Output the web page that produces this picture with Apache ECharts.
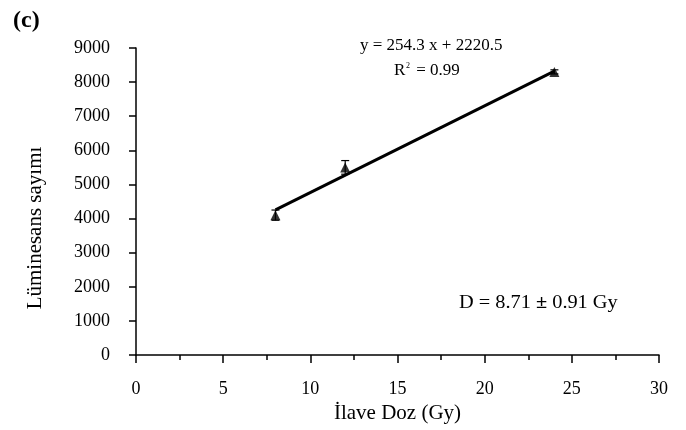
<!DOCTYPE html>
<html>
<head>
<meta charset="utf-8">
<script src="https://cdn.jsdelivr.net/npm/echarts@6/dist/echarts.min.js"></script>
<style>
html, body { margin: 0; padding: 0; background: #fff; }
#main { width: 686px; height: 430px; }
</style>
</head>
<body>
<div id="main"></div>
<script>
// measured doses and luminescence counts
var doses = [8, 12, 24];
var counts = [4100, 5500, 8300];
var errs = [150, 200, 60];

// linear fit
var slope = 254.3;
var intercept = 2220.5;
var fitX = [8, 24];

var FONT = '"Liberation Serif", "Times New Roman", serif';

var myChart = echarts.init(document.getElementById('main'));

var points = doses.map(function (d, i) { return [d, counts[i]]; });
var bars = doses.map(function (d, i) { return [d, counts[i] - errs[i], counts[i] + errs[i]]; });
var fitLine = fitX.map(function (x) { return [x, slope * x + intercept]; });

option = {
    animation: false,
    grid: { left: 136, right: 27, top: 48, bottom: 75 },
    xAxis: {
        type: 'value',
        min: 0, max: 30, interval: 5,
        name: 'İlave Doz (Gy)',
        nameLocation: 'middle',
        nameGap: 46,
        nameTextStyle: { fontFamily: FONT, fontSize: 21, color: '#000' },
        axisLine: { show: true, lineStyle: { color: '#000', width: 1.5 } },
        axisTick: { show: true, length: 8, lineStyle: { color: '#000', width: 1.5 } },
        minorTick: { show: true, splitNumber: 2, length: 5, lineStyle: { color: '#000', width: 1.5 } },
        axisLabel: { margin: 25, fontFamily: FONT, fontSize: 18, color: '#000' },
        splitLine: { show: false }
    },
    yAxis: {
        type: 'value',
        min: 0, max: 9000, interval: 1000,
        axisLine: { show: true, lineStyle: { color: '#000', width: 1.5 } },
        axisTick: { show: true, length: 7, lineStyle: { color: '#000', width: 1.5 } },
        axisLabel: {
            margin: 26, fontFamily: FONT, fontSize: 18, color: '#000',
            formatter: function (v) { return String(v); }
        },
        splitLine: { show: false }
    },
    graphic: [
        {
            type: 'text', left: 13, top: 9,
            style: { text: '(c)', font: 'bold 24px ' + FONT, fill: '#000' }
        },
        {
            type: 'text', x: 35, y: 228, rotation: Math.PI / 2,
            style: { text: 'Lüminesans sayımı', font: '21px ' + FONT, fill: '#000',
                     align: 'center', verticalAlign: 'middle' }
        },
        {
            type: 'text', x: 360, y: 37,
            style: { text: 'y = 254.3 x + 2220.5', font: '17px ' + FONT, fill: '#000' }
        },
        {
            type: 'text', x: 394, y: 62,
            style: { text: 'R', font: '17px ' + FONT, fill: '#000' }
        },
        {
            type: 'text', x: 406, y: 62,
            style: { text: '2', font: '8px ' + FONT, fill: '#000' }
        },
        {
            type: 'text', x: 412, y: 62,
            style: { text: ' = 0.99', font: '17px ' + FONT, fill: '#000' }
        },
        {
            type: 'text', x: 459, y: 294,
            style: {
                text: '{n|D = 8.71 }{b|±}{n| 0.91 Gy}',
                rich: {
                    n: { fontFamily: FONT, fontSize: 19, fill: '#000' },
                    b: { fontFamily: FONT, fontSize: 19, fontWeight: 'bold', fill: '#000' }
                }
            },
            scaleX: 1.07
        }
    ],
    series: [
        {
            type: 'line',
            data: fitLine,
            symbol: 'none',
            lineStyle: { color: '#000', width: 3 },
            z: 2
        },
        {
            type: 'custom',
            data: bars,
            renderItem: function (params, api) {
                var x = api.value(0);
                var lo = api.coord([x, api.value(1)]);
                var hi = api.coord([x, api.value(2)]);
                var w = 4;
                var st = { stroke: '#000', lineWidth: 1.2 };
                return {
                    type: 'group',
                    children: [
                        { type: 'line', shape: { x1: lo[0], y1: lo[1], x2: hi[0], y2: hi[1] }, style: st },
                        { type: 'line', shape: { x1: lo[0] - w, y1: lo[1], x2: lo[0] + w, y2: lo[1] }, style: st },
                        { type: 'line', shape: { x1: hi[0] - w, y1: hi[1], x2: hi[0] + w, y2: hi[1] }, style: st }
                    ]
                };
            },
            z: 3
        },
        {
            type: 'scatter',
            data: points,
            symbol: 'triangle',
            symbolSize: [10, 10],
            itemStyle: { color: '#000' },
            z: 4
        }
    ]
};
myChart.setOption(option);
</script>
</body>
</html>
